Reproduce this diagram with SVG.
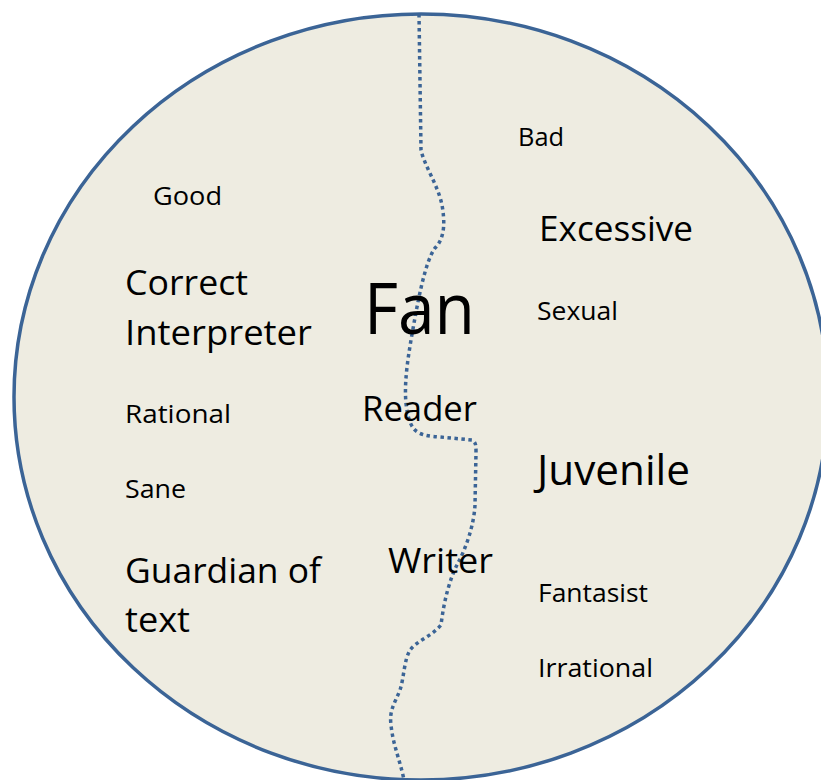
<svg xmlns="http://www.w3.org/2000/svg" width="821" height="780" viewBox="0 0 821 780">
<style>
.t{font-family:"Open Sans","Liberation Sans",sans-serif;fill:#000;}
.s{font-size:26px;}
.m{font-size:34px;}
.l{font-size:42px;}
.xl{font-size:72px;}
</style>
<rect width="821" height="780" fill="#ffffff"/>
<g id="circle">
<ellipse cx="421" cy="397" rx="407" ry="383" fill="#EEECE1" stroke="#3B6496" stroke-width="3.5"/>
</g>
<g id="connectors">
<path d="M419,14 L421,150 C424,165 438,185 442,205 C445,222 445,238 435,248 C425,262 418,300 411,340 C406,370 402,400 410,422 C414,432 420,436 440,437 L472,440 C476,442 476,446 476,452 L475,505 C474,525 466,548 458,563 C450,578 444,600 441,625 C432,636 418,640 410,650 C404,660 404,678 400,690 C395,703 389,710 391,725 C393,745 400,760 404,780" fill="none" stroke="#3B6496" stroke-width="3.5" stroke-dasharray="3.5 3.5"/>
</g>
<g id="good"><text class="t s" x="153" y="205" textLength="69" lengthAdjust="spacingAndGlyphs">Good</text></g>
<g id="correct-interpreter">
<text class="t m" x="125" y="295" textLength="123" lengthAdjust="spacingAndGlyphs">Correct</text>
<text class="t m" x="125" y="345" textLength="187" lengthAdjust="spacingAndGlyphs">Interpreter</text>
</g>
<g id="rational"><text class="t s" x="125" y="423" textLength="106" lengthAdjust="spacingAndGlyphs">Rational</text></g>
<g id="sane"><text class="t s" x="125" y="498" textLength="61" lengthAdjust="spacingAndGlyphs">Sane</text></g>
<g id="guardian">
<text class="t m" x="125" y="583" textLength="196" lengthAdjust="spacingAndGlyphs">Guardian of</text>
<text class="t m" x="125" y="632" textLength="65" lengthAdjust="spacingAndGlyphs">text</text>
</g>
<g id="fan"><text class="t xl" x="364" y="334" textLength="111" lengthAdjust="spacingAndGlyphs">Fan</text></g>
<g id="reader"><text class="t m" x="362" y="421" textLength="115" lengthAdjust="spacingAndGlyphs">Reader</text></g>
<g id="writer"><text class="t m" x="388" y="573" textLength="105" lengthAdjust="spacingAndGlyphs">Writer</text></g>
<g id="bad"><text class="t s" x="518" y="146" textLength="46" lengthAdjust="spacingAndGlyphs">Bad</text></g>
<g id="excessive"><text class="t m" x="539" y="241" textLength="154" lengthAdjust="spacingAndGlyphs">Excessive</text></g>
<g id="sexual"><text class="t s" x="537" y="320" textLength="81" lengthAdjust="spacingAndGlyphs">Sexual</text></g>
<g id="juvenile"><text class="t l" x="537" y="485" textLength="153" lengthAdjust="spacingAndGlyphs">Juvenile</text></g>
<g id="fantasist"><text class="t s" x="538" y="602" textLength="110" lengthAdjust="spacingAndGlyphs">Fantasist</text></g>
<g id="irrational"><text class="t s" x="538" y="677" textLength="115" lengthAdjust="spacingAndGlyphs">Irrational</text></g>
</svg>
